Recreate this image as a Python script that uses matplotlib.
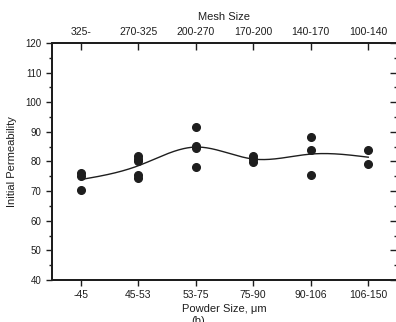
import numpy as np
import matplotlib
matplotlib.use("Agg")
import matplotlib.pyplot as plt
from matplotlib.ticker import MultipleLocator

plt.rcParams["font.family"] = ["Liberation Sans", "DejaVu Sans"]

powder_sizes = ["-45", "45-53", "53-75", "75-90", "90-106", "106-150"]
mesh_sizes = ["325-", "270-325", "200-270", "170-200", "140-170", "100-140"]

# measured initial permeability, several samples per powder size
perm_45 = [76.0, 75.2, 70.5]
perm_45_53 = [81.8, 81.0, 80.2, 75.5, 74.3]
perm_53_75 = [91.5, 85.2, 84.6, 78.2]
perm_75_90 = [81.8, 80.9, 79.8]
perm_90_106 = [88.3, 83.8, 75.4]
perm_106_150 = [83.8, 79.1]

groups = [perm_45, perm_45_53, perm_53_75, perm_75_90, perm_90_106, perm_106_150]


def natural_spline(x, y, xs):
    n = len(x)
    h = np.diff(x)
    A = np.zeros((n, n))
    b = np.zeros(n)
    A[0, 0] = A[-1, -1] = 1.0
    for i in range(1, n - 1):
        A[i, i - 1] = h[i - 1]
        A[i, i] = 2 * (h[i - 1] + h[i])
        A[i, i + 1] = h[i]
        b[i] = 3 * ((y[i + 1] - y[i]) / h[i] - (y[i] - y[i - 1]) / h[i - 1])
    c = np.linalg.solve(A, b)
    out = np.empty_like(xs)
    for k, xv in enumerate(xs):
        i = min(np.searchsorted(x, xv, side="right") - 1, n - 2)
        i = max(i, 0)
        dx = xv - x[i]
        bi = (y[i + 1] - y[i]) / h[i] - h[i] * (2 * c[i] + c[i + 1]) / 3
        di = (c[i + 1] - c[i]) / (3 * h[i])
        out[k] = y[i] + bi * dx + c[i] * dx ** 2 + di * dx ** 3
    return out


ink = "#1e1e1e"
fig = plt.figure(figsize=(3.96, 3.22), dpi=100)
ax = fig.add_axes([52 / 396, 42 / 322, 345 / 396, 237 / 322])

pos = np.arange(1, len(powder_sizes) + 1, dtype=float)
for p, vals in zip(pos, groups):
    ax.plot([p] * len(vals), vals, "o", color=ink, markersize=5.5, zorder=3)

# smooth trend through the mean of each size fraction
means = np.array([np.mean(g) for g in groups])
xs = np.linspace(pos[0], pos[-1], 300)
ax.plot(xs, natural_spline(pos, means, xs), color=ink, lw=1.0)

ax.set_xlim(0.5, 6.5)
ax.set_ylim(40, 120)
ax.set_xticks(pos)
ax.set_xticklabels(powder_sizes, fontsize=7.5)
ax.yaxis.set_major_locator(MultipleLocator(10))
ax.yaxis.set_minor_locator(MultipleLocator(5))
ax.tick_params(axis="y", which="both", direction="out", labelsize=7, colors=ink)
ax.tick_params(axis="y", which="major", length=4, width=1)
ax.tick_params(axis="y", which="minor", length=2, width=1)
ax.tick_params(axis="x", direction="out", length=4, width=1, colors=ink, pad=3)
ax.set_ylabel("Initial Permeability", fontsize=8, color=ink, labelpad=6)
ax.set_xlabel("Powder Size, \u03bcm", fontsize=8, color=ink, labelpad=3)

# right-hand ticks point inward
right = ax.twinx()
right.set_ylim(ax.get_ylim())
right.yaxis.set_major_locator(MultipleLocator(10))
right.yaxis.set_minor_locator(MultipleLocator(5))
right.tick_params(axis="y", which="both", direction="in", labelright=False,
                  colors=ink, width=1)
right.tick_params(axis="y", which="major", length=5)
right.tick_params(axis="y", which="minor", length=2.5)

top = ax.twiny()
top.set_xlim(ax.get_xlim())
top.set_xticks(pos)
top.set_xticklabels(mesh_sizes, fontsize=7.5)
top.tick_params(axis="x", direction="in", length=5, width=1, colors=ink, pad=4)
top.set_xlabel("Mesh Size", fontsize=8, color=ink, labelpad=5)

for a in (ax, right, top):
    for s in a.spines.values():
        s.set_color(ink)
        s.set_linewidth(1.3)
    a.spines["right"].set_visible(False)

fig.text(0.5, 0.018, "(b)", ha="center", va="top", fontsize=8, color=ink)

fig.savefig("out.png", dpi=100)
